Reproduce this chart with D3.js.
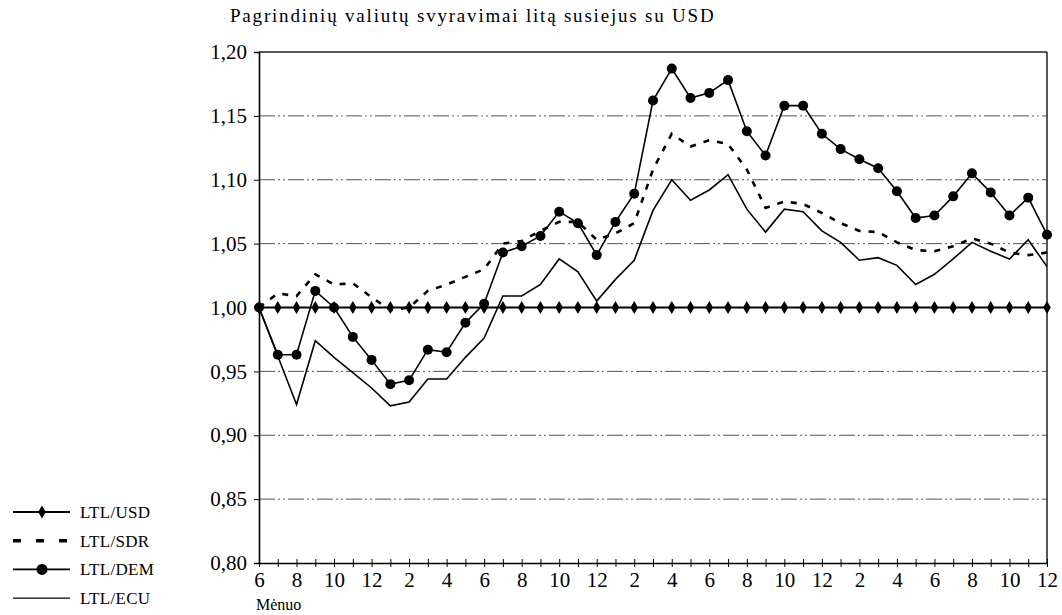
<!DOCTYPE html>
<html>
<head>
<meta charset="utf-8">
<script src="https://cdn.jsdelivr.net/npm/d3@7"></script>
<style>
  body { margin: 0; background: #fff; }
  svg { display: block; font-family: 'Liberation Serif', 'DejaVu Serif', serif; }
</style>
</head>
<body>
<svg id="chart" width="1062" height="615"></svg>
<script>
const months = [6, 7, 8, 9, 10, 11, 12,
  1, 2, 3, 4, 5, 6, 7, 8, 9, 10, 11, 12,
  1, 2, 3, 4, 5, 6, 7, 8, 9, 10, 11, 12,
  1, 2, 3, 4, 5, 6, 7, 8, 9, 10, 11, 12];

const usd = [1.00, 1.00, 1.00, 1.00, 1.00, 1.00, 1.00,
  1.00, 1.00, 1.00, 1.00, 1.00, 1.00, 1.00, 1.00, 1.00, 1.00, 1.00, 1.00,
  1.00, 1.00, 1.00, 1.00, 1.00, 1.00, 1.00, 1.00, 1.00, 1.00, 1.00, 1.00,
  1.00, 1.00, 1.00, 1.00, 1.00, 1.00, 1.00, 1.00, 1.00, 1.00, 1.00, 1.00];

const sdr = [1.000, 1.011, 1.009, 1.026, 1.018, 1.019, 1.008,
  0.998, 1.000, 1.013, 1.018, 1.024, 1.030, 1.050, 1.052, 1.060, 1.067, 1.067, 1.053,
  1.058, 1.066, 1.108, 1.136, 1.126, 1.131, 1.128, 1.108, 1.078, 1.083, 1.081, 1.074,
  1.066, 1.060, 1.059, 1.051, 1.045, 1.044, 1.048, 1.054, 1.050, 1.043, 1.041, 1.043];

const dem = [1.000, 0.963, 0.963, 1.013, 1.000, 0.977, 0.959,
  0.940, 0.943, 0.967, 0.965, 0.988, 1.003, 1.043, 1.048, 1.056, 1.075, 1.066, 1.041,
  1.067, 1.089, 1.162, 1.187, 1.164, 1.168, 1.178, 1.138, 1.119, 1.158, 1.158, 1.136,
  1.124, 1.116, 1.109, 1.091, 1.070, 1.072, 1.087, 1.105, 1.090, 1.072, 1.086, 1.057];

const ecu = [1.000, 0.962, 0.924, 0.974, 0.961, 0.949, 0.937,
  0.923, 0.926, 0.944, 0.944, 0.961, 0.976, 1.009, 1.009, 1.018, 1.038, 1.028, 1.005,
  1.022, 1.037, 1.076, 1.100, 1.084, 1.092, 1.104, 1.077, 1.059, 1.077, 1.075, 1.060,
  1.051, 1.037, 1.039, 1.033, 1.018, 1.026, 1.038, 1.051, 1.044, 1.038, 1.053, 1.032];

const yTicks = [0.80, 0.85, 0.90, 0.95, 1.00, 1.05, 1.10, 1.15, 1.20];
const legendNames = ['LTL/USD', 'LTL/SDR', 'LTL/DEM', 'LTL/ECU'];

const svg = d3.select('#chart');
const plotLeft = 259, plotRight = 1047, plotTop = 52, plotBottom = 563;

const x = d3.scaleLinear().domain([0, months.length - 1]).range([plotLeft, plotRight]);
const y = d3.scaleLinear().domain([0.80, 1.20]).range([plotBottom, plotTop]);

const fmt = (v) => v.toFixed(2).replace('.', ',');

// title
svg.append('text')
  .attr('x', 230).attr('y', 22)
  .style('font-size', '19px')
  .style('letter-spacing', '1.8px')
  .text('Pagrindinių valiutų svyravimai litą susiejus su USD');

// grid lines
svg.append('g')
  .selectAll('line')
  .data(yTicks.filter((v) => v > 0.80 && v < 1.20))
  .enter()
  .append('line')
  .attr('x1', plotLeft).attr('x2', plotRight)
  .attr('y1', (d) => y(d)).attr('y2', (d) => y(d))
  .attr('stroke', '#555')
  .attr('stroke-width', 1)
  .attr('stroke-dasharray', '16,3,2,3,2,3');

// frame top and right
svg.append('line')
  .attr('x1', plotLeft).attr('x2', plotRight).attr('y1', y(1.20)).attr('y2', y(1.20))
  .attr('stroke', '#222').attr('stroke-width', 1.3);
svg.append('line')
  .attr('x1', plotRight).attr('x2', plotRight).attr('y1', y(1.20)).attr('y2', y(0.80))
  .attr('stroke', '#222').attr('stroke-width', 1.5);

// y axis
const yAxis = svg.append('g')
  .attr('transform', `translate(${plotLeft},0)`)
  .call(d3.axisLeft(y).tickValues(yTicks).tickFormat(fmt).tickSize(5).tickPadding(7));
yAxis.select('.domain').attr('stroke', '#000').attr('stroke-width', 1.6);
yAxis.selectAll('.tick line').attr('stroke', '#000');
yAxis.selectAll('text')
  .style('font-size', '21px')
  .style('font-family', "'Liberation Serif', serif")
  .attr('fill', '#000');

// x axis
const xAxis = svg.append('g')
  .attr('transform', `translate(0,${plotBottom})`)
  .call(d3.axisBottom(x)
    .tickValues(d3.range(months.length))
    .tickFormat((i) => (i % 2 === 0 ? months[i] : ''))
    .tickSizeInner(4).tickSizeOuter(0).tickPadding(5));
xAxis.select('.domain').attr('stroke', '#000').attr('stroke-width', 1.6);
xAxis.selectAll('.tick line').attr('stroke', '#000').attr('y1', -4).attr('y2', 4);
xAxis.selectAll('text')
  .style('font-size', '21px')
  .style('font-family', "'Liberation Serif', serif")
  .attr('fill', '#000');

svg.append('text')
  .attr('x', 256).attr('y', 610)
  .style('font-size', '16px')
  .text('Mėnuo');

// series
const line = d3.line().x((d, i) => x(i)).y((d) => y(d));

svg.append('path').datum(ecu)
  .attr('d', line).attr('fill', 'none')
  .attr('stroke', '#000').attr('stroke-width', 1.6);

svg.append('path').datum(sdr)
  .attr('d', line).attr('fill', 'none')
  .attr('stroke', '#000').attr('stroke-width', 2.6)
  .attr('stroke-dasharray', '6,8');

svg.append('path').datum(dem)
  .attr('d', line).attr('fill', 'none')
  .attr('stroke', '#000').attr('stroke-width', 1.6);
svg.append('g').selectAll('circle')
  .data(dem).enter().append('circle')
  .attr('cx', (d, i) => x(i)).attr('cy', (d) => y(d))
  .attr('r', 5).attr('fill', '#000');

svg.append('path').datum(usd)
  .attr('d', line).attr('fill', 'none')
  .attr('stroke', '#000').attr('stroke-width', 2.2);
const diamond = d3.symbol().type(d3.symbolDiamond).size(50);
svg.append('g').selectAll('path')
  .data(usd).enter().append('path')
  .attr('d', diamond)
  .attr('transform', (d, i) => `translate(${x(i)},${y(d)})`)
  .attr('fill', '#000');

// legend
const legend = svg.append('g').attr('transform', 'translate(0,512)');
const rows = legend.selectAll('g')
  .data(legendNames).enter().append('g')
  .attr('transform', (d, i) => `translate(0,${i * 28.7})`);
rows.append('line')
  .attr('x1', 13).attr('x2', 70).attr('y1', 0).attr('y2', 0)
  .attr('stroke', '#000')
  .attr('stroke-width', (d, i) => (i === 1 ? 3.5 : i === 3 ? 1.2 : 1.8))
  .attr('stroke-dasharray', (d, i) => (i === 1 ? '8,15' : null));
rows.filter((d, i) => i === 0).append('path')
  .attr('d', diamond).attr('transform', 'translate(42,0)');
rows.filter((d, i) => i === 2).append('circle')
  .attr('cx', 42).attr('cy', 0).attr('r', 5.5);
rows.append('text')
  .attr('x', 80).attr('y', 6)
  .style('font-size', '17px')
  .style('letter-spacing', '0.3px')
  .text((d) => d);
</script>
</body>
</html>
